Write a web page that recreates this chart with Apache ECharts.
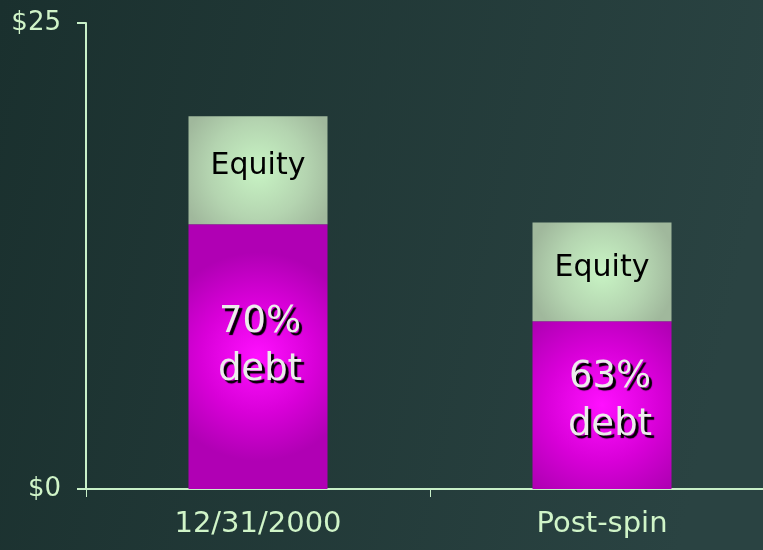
<!DOCTYPE html>
<html>
<head>
<meta charset="utf-8">
<script src="https://cdn.jsdelivr.net/npm/echarts@6/dist/echarts.min.js"></script>
<style>
  html, body { margin: 0; padding: 0; background: #1f3535; }
  #chart { width: 763px; height: 550px; }
</style>
</head>
<body>
<div id="chart"></div>
<script>
// capital structure, $ billions
var categories = ['12/31/2000', 'Post-spin'];
var debtValues = [14.2, 9];
var equityValues = [5.8, 5.3];
var debtLabels = ['70%\ndebt', '63%\ndebt'];
var equityLabel = 'Equity';
var yTicks = [0, 25];

var axisColor = '#c8f0c8';
var textColor = '#d0f4c8';

var debtFill = {
  type: 'radial', x: 0.5, y: 0.5, r: 0.75,
  colorStops: [
    { offset: 0, color: '#ff10ff' },
    { offset: 0.55, color: '#d800d8' },
    { offset: 1, color: '#b000b4' }
  ]
};
var equityFill = {
  type: 'radial', x: 0.5, y: 0.5, r: 0.75,
  colorStops: [
    { offset: 0, color: '#c8f4c4' },
    { offset: 0.6, color: '#b4d4b0' },
    { offset: 1, color: '#a0b89c' }
  ]
};

// per-bar text nudges so labels sit where the slide had them
var debtOffsets = [[2, -10], [8, -4]];

var chart = echarts.init(document.getElementById('chart'));

var option = {
  backgroundColor: {
    type: 'linear', x: 0, y: 0, x2: 1, y2: 0.3,
    colorStops: [
      { offset: 0, color: '#1a302e' },
      { offset: 1, color: '#2a4342' }
    ]
  },
  animation: false,
  grid: { left: 86, top: 23, width: 688, bottom: 61, containLabel: false, outerBoundsMode: 'none' },
  xAxis: {
    type: 'category',
    data: categories,
    axisLine: { lineStyle: { color: axisColor, width: 2 } },
    axisTick: { show: true, length: 8, lineStyle: { color: axisColor, width: 1 } },
    axisLabel: {
      color: textColor, fontSize: 29, fontFamily: 'DejaVu Sans', margin: 21
    }
  },
  yAxis: {
    type: 'value',
    min: yTicks[0], max: yTicks[1], interval: yTicks[1] - yTicks[0],
    splitLine: { show: false },
    axisLine: { show: true, lineStyle: { color: axisColor, width: 2 } },
    axisTick: { show: true, length: 9, lineStyle: { color: axisColor, width: 2 } },
    axisLabel: {
      color: textColor, fontSize: 26, fontFamily: 'DejaVu Sans', margin: 25,
      formatter: function (v) { return '$' + v; }
    }
  },
  series: [
    {
      name: 'Debt', type: 'bar', stack: 'cap', barWidth: 139,
      data: debtValues.map(function (v, i) {
        return { value: v, label: { offset: debtOffsets[i] } };
      }),
      itemStyle: { color: debtFill },
      label: {
        show: true, position: 'inside',
        formatter: function (p) { return debtLabels[p.dataIndex]; },
        color: '#ececec', fontSize: 37, fontFamily: 'DejaVu Sans', lineHeight: 48,
        textShadowColor: '#000', textShadowOffsetX: 3, textShadowOffsetY: 3, textShadowBlur: 1,
        textBorderWidth: 0
      }
    },
    {
      name: 'Equity', type: 'bar', stack: 'cap', barWidth: 139,
      data: equityValues,
      itemStyle: { color: equityFill },
      label: {
        show: true, position: 'inside', offset: [0, -4],
        formatter: equityLabel,
        color: '#000', fontSize: 30, fontFamily: 'DejaVu Sans',
        textBorderWidth: 0
      }
    }
  ]
};

chart.setOption(option);
</script>
</body>
</html>
